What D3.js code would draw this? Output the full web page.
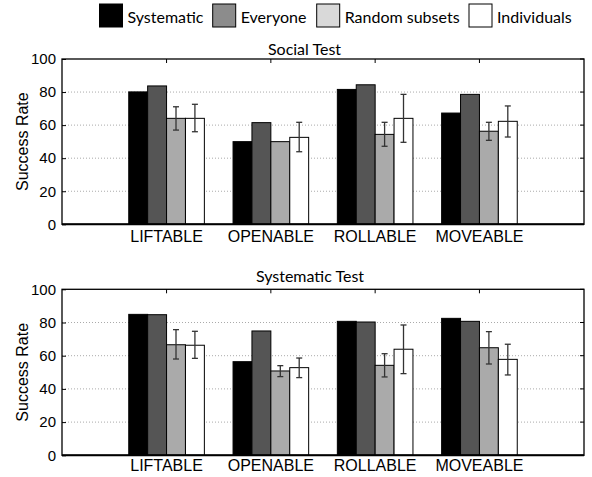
<!DOCTYPE html>
<html>
<head>
<meta charset="utf-8">
<script src="https://cdn.jsdelivr.net/npm/d3@7"></script>
<style>
  body { margin: 0; background: #fff; }
  svg { display: block; }
</style>
</head>
<body>
<svg class="chart"></svg>
<script>
const categories = ['LIFTABLE', 'OPENABLE', 'ROLLABLE', 'MOVEABLE'];
const seriesNames = ['Systematic', 'Everyone', 'Random subsets', 'Individuals'];
const yTicks = [0, 20, 40, 60, 80, 100];

// Social Test
const socialSystematic = [80.1, 50, 81.6, 67.3];
const socialEveryone = [83.7, 61.5, 84.4, 78.6];
const socialRandom = [64.1, 50, 54.4, 56.3];
const socialRandomErr = [[57, 71.1], null, [47.2, 61.7], [50.8, 61.7]];
const socialIndividuals = [64.1, 52.6, 64.1, 62.3];
const socialIndividualsErr = [[56, 72.6], [43.9, 61.7], [49.6, 78.6], [52.8, 71.6]];

// Systematic Test
const systSystematic = [84.9, 56.4, 80.7, 82.5];
const systEveryone = [84.7, 74.9, 80.3, 80.7];
const systRandom = [66.6, 50.8, 54.2, 64.8];
const systRandomErr = [[58, 75.7], [47.4, 54], [47.2, 61.2], [55, 74.5]];
const systIndividuals = [66.3, 52.8, 63.9, 57.8];
const systIndividualsErr = [[58.4, 74.7], [46.8, 58.6], [49.2, 78.5], [48.4, 66.9]];

const fills = ['#000000', '#555555', '#aaaaaa', '#ffffff'];
const legendFills = ['#000000', '#8c8c8c', '#d9d9d9', '#ffffff'];

const width = 592, height = 477;
const svg = d3.select('.chart').attr('width', width).attr('height', height);

const labelFont = '"Liberation Sans", Arial, sans-serif';
const titleFont = 'Lato, "Open Sans", sans-serif';

const x0 = d3.scaleBand()
  .domain(categories)
  .range([62, 584])
  .paddingInner(0.275)
  .paddingOuter(0.64);

const x1 = d3.scaleBand()
  .domain(seriesNames)
  .range([0, x0.bandwidth()]);

function buildRows(vals, errs) {
  return categories.map((c, i) => seriesNames.map((s, j) => ({
    cat: c, series: s, idx: j, value: vals[j][i], err: errs[j] ? errs[j][i] : null
  })));
}

const panels = [
  {title: 'Social Test', titleX: 304.5, titleY: 55, top: 59, bottom: 224.3, catY: 242.3,
   rows: buildRows([socialSystematic, socialEveryone, socialRandom, socialIndividuals],
                   [null, null, socialRandomErr, socialIndividualsErr])},
  {title: 'Systematic Test', titleX: 310, titleY: 282.3, top: 289.3, bottom: 455.3, catY: 470.7,
   rows: buildRows([systSystematic, systEveryone, systRandom, systIndividuals],
                   [null, null, systRandomErr, systIndividualsErr])}
];

panels.forEach(p => {
  const y = d3.scaleLinear().domain([0, 100]).range([p.bottom, p.top]);
  const g = svg.append('g');
  const left = x0.range()[0], right = x0.range()[1];

  // grid
  g.selectAll('.grid')
    .data(yTicks.filter(t => t > 0 && t < 100))
    .enter().append('line')
    .attr('x1', left).attr('x2', right)
    .attr('y1', d => y(d)).attr('y2', d => y(d))
    .attr('stroke', '#aaa')
    .attr('stroke-width', 1)
    .attr('stroke-dasharray', '1,2');

  // y axis labels + inner ticks
  const yAxis = d3.axisLeft(y).tickValues(yTicks).tickSize(-4).tickPadding(6);
  const ya = g.append('g').attr('transform', 'translate(' + left + ',0)').call(yAxis);
  ya.select('.domain').remove();
  ya.selectAll('.tick line').attr('stroke', '#000');
  ya.selectAll('text')
    .style('font-family', labelFont)
    .style('font-size', '15px')
    .attr('fill', '#000');

  // mirrored ticks right
  g.selectAll('.rtick')
    .data(yTicks)
    .enter().append('line')
    .attr('x1', right).attr('x2', right - 4)
    .attr('y1', d => y(d)).attr('y2', d => y(d))
    .attr('stroke', '#000');

  // top ticks at category centres
  g.selectAll('.ttick')
    .data(categories)
    .enter().append('line')
    .attr('x1', d => x0(d) + x0.bandwidth() / 2)
    .attr('x2', d => x0(d) + x0.bandwidth() / 2)
    .attr('y1', p.top).attr('y2', p.top + 4)
    .attr('stroke', '#000');

  // bars
  const groups = g.selectAll('.grp')
    .data(p.rows)
    .enter().append('g')
    .attr('transform', d => 'translate(' + x0(d[0].cat) + ',0)');

  groups.selectAll('rect')
    .data(d => d)
    .enter().append('rect')
    .attr('x', d => x1(d.series))
    .attr('width', x1.bandwidth())
    .attr('y', d => y(d.value))
    .attr('height', d => y(0) - y(d.value))
    .attr('fill', d => fills[d.idx])
    .attr('stroke', '#000')
    .attr('stroke-width', 1);

  // error bars
  const eb = groups.selectAll('.err')
    .data(d => d.filter(e => e.err))
    .enter().append('g')
    .attr('stroke', '#333')
    .attr('stroke-width', 1.3);
  eb.append('line')
    .attr('x1', d => x1(d.series) + x1.bandwidth() / 2)
    .attr('x2', d => x1(d.series) + x1.bandwidth() / 2)
    .attr('y1', d => y(d.err[0])).attr('y2', d => y(d.err[1]));
  [0, 1].forEach(k => {
    eb.append('line')
      .attr('x1', d => x1(d.series) + x1.bandwidth() / 2 - 3)
      .attr('x2', d => x1(d.series) + x1.bandwidth() / 2 + 3)
      .attr('y1', d => y(d.err[k])).attr('y2', d => y(d.err[k]));
  });

  // frame
  g.append('rect')
    .attr('x', left).attr('y', p.top)
    .attr('width', right - left).attr('height', p.bottom - p.top)
    .attr('fill', 'none').attr('stroke', '#000').attr('stroke-width', 1.3);
  g.append('line')
    .attr('x1', left).attr('x2', right)
    .attr('y1', p.bottom).attr('y2', p.bottom)
    .attr('stroke', '#000').attr('stroke-width', 2);

  // category labels
  g.selectAll('.cat')
    .data(categories)
    .enter().append('text')
    .attr('x', d => x0(d) + x0.bandwidth() / 2)
    .attr('y', p.catY)
    .style('text-anchor', 'middle')
    .style('font-family', labelFont)
    .style('font-size', '16px')
    .text(d => d);

  // y label
  g.append('text')
    .attr('transform', 'translate(28,' + ((p.top + p.bottom) / 2) + ') rotate(-90)')
    .style('text-anchor', 'middle')
    .style('font-family', labelFont)
    .style('font-size', '16px')
    .text('Success Rate');

  // title
  g.append('text')
    .attr('x', p.titleX).attr('y', p.titleY)
    .style('text-anchor', 'middle')
    .style('font-family', titleFont)
    .style('font-size', '16px')
    .text(p.title);
});

// legend
const legendX = [99.5, 212.7, 316.7, 469];
const legend = svg.append('g');
const items = legend.selectAll('.leg')
  .data(seriesNames)
  .enter().append('g')
  .attr('transform', (d, i) => 'translate(' + legendX[i] + ',4)');
items.append('rect')
  .attr('width', 23).attr('height', 23)
  .attr('fill', (d, i) => legendFills[i])
  .attr('stroke', '#000').attr('stroke-width', 1);
items.append('text')
  .attr('x', 28).attr('y', 19)
  .style('font-family', titleFont)
  .style('font-size', '16px')
  .text(d => d);
</script>
</body>
</html>
